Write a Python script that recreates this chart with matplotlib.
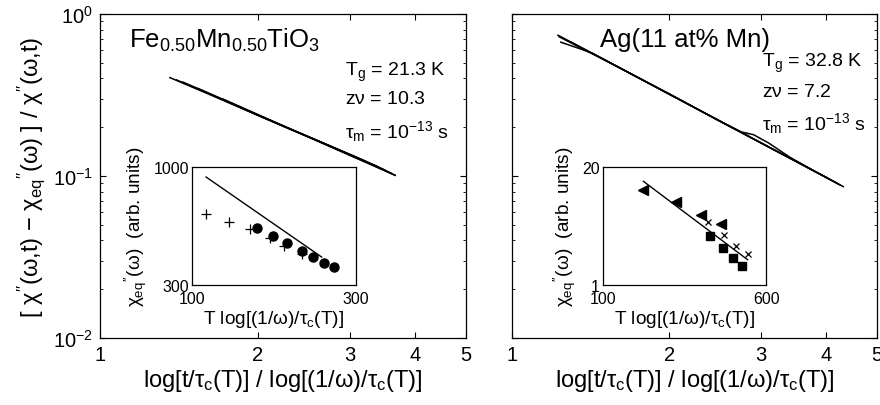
import numpy as np
import matplotlib
matplotlib.use("Agg")
import matplotlib.pyplot as plt
from matplotlib.ticker import FixedLocator, FixedFormatter, NullLocator

plt.rcParams['font.family'] = ['Liberation Sans', 'DejaVu Sans']
plt.rcParams['mathtext.fontset'] = 'custom'
plt.rcParams['mathtext.rm'] = 'Liberation Sans'
plt.rcParams['mathtext.it'] = 'Liberation Sans'
plt.rcParams['mathtext.bf'] = 'Liberation Sans:bold'

# main panel curves, Fe0.5Mn0.5TiO3 (several overlapping runs)
fm_curves = [
    ([1.36, 1.6, 2.0, 2.5, 3.0, 3.66], [0.405, 0.324, 0.237, 0.174, 0.134, 0.101]),
    ([1.40, 1.7, 2.1, 2.6, 3.1, 3.6], [0.392, 0.300, 0.222, 0.166, 0.130, 0.104]),
    ([1.44, 1.8, 2.2, 2.7, 3.2, 3.66], [0.380, 0.278, 0.208, 0.157, 0.124, 0.101]),
    ([1.54, 1.9, 2.3, 2.8, 3.4], [0.347, 0.256, 0.196, 0.149, 0.114]),
    ([1.72, 2.0, 2.4, 2.9, 3.5], [0.298, 0.240, 0.185, 0.142, 0.109]),
]
# main panel curves, Ag(11 at% Mn)
ag_curves = [
    ([1.225, 1.5, 1.9, 2.4, 2.89, 3.4, 3.9, 4.31], [0.74, 0.524, 0.349, 0.234, 0.170, 0.129, 0.102, 0.086]),
    ([1.24, 1.35, 1.43, 1.7, 2.1, 2.6, 3.0, 3.5, 4.2], [0.67, 0.61, 0.57, 0.423, 0.295, 0.204, 0.160, 0.123, 0.090]),
    ([1.23, 1.6, 2.0, 2.5, 2.75, 2.9, 3.1, 3.4, 3.8, 4.25], [0.725, 0.469, 0.322, 0.218, 0.187, 0.180, 0.160, 0.131, 0.107, 0.088]),
    ([1.3, 1.7, 2.2, 2.7, 3.3, 4.0], [0.668, 0.423, 0.272, 0.192, 0.136, 0.098]),
]

# inset data, Fe0.5Mn0.5TiO3
fm_line_x = [110, 239]
fm_line_y = [903, 399]
fm_plus_x = [110, 128, 148, 169, 186, 209]
fm_plus_y = [618, 571, 531, 485, 447, 411]
fm_dot_x = [155, 172, 190, 209, 225, 242, 259]
fm_dot_y = [538, 494, 460, 424, 399, 375, 361]

# inset data, Ag(11 at% Mn)
ag_line_x = [156, 488]
ag_line_y = [13.9, 1.90]
ag_tri_x = [155, 224, 292, 363]
ag_tri_y = [11.1, 8.17, 5.86, 4.65]
ag_x_x = [315, 376, 432, 488]
ag_x_y = [5.0, 3.59, 2.71, 2.21]
ag_sq_x = [322, 371, 414, 461]
ag_sq_y = [3.51, 2.58, 2.0, 1.62]

xlab = r"log[t/$\tau_c$(T)] / log[(1/$\omega$)/$\tau_c$(T)]"
ylab = r"[ $\chi''$($\omega$,t) $-$ $\chi_{eq}{}''$($\omega$) ] / $\chi''$($\omega$,t)"
inset_xlab = r"T log[(1/$\omega$)/$\tau_c$(T)]"
inset_ylab = r"$\chi_{eq}{}''$($\omega$)  (arb. units)"

fig = plt.figure(figsize=(8.8, 4.06), dpi=100)
ax1 = fig.add_axes([0.1136, 0.165, 0.416, 0.798])
ax2 = fig.add_axes([0.5818, 0.165, 0.4148, 0.798])

for ax, curves in ((ax1, fm_curves), (ax2, ag_curves)):
    for cx, cy in curves:
        ax.plot(cx, cy, color='black', lw=1.1)
    ax.set_xscale('log')
    ax.set_yscale('log')
    ax.set_xlim(1, 5)
    ax.set_ylim(1e-2, 1)
    ax.xaxis.set_major_locator(FixedLocator([1, 2, 3, 4, 5]))
    ax.xaxis.set_major_formatter(FixedFormatter(['1', '2', '3', '4', '5']))
    ax.xaxis.set_minor_locator(NullLocator())
    ax.tick_params(which='both', direction='in', top=True, right=True, labelsize=14.5)
    ax.tick_params(which='major', length=4, pad=5)
    ax.tick_params(which='minor', length=2.5)
    ax.set_xlabel(xlab, fontsize=17, labelpad=2)
    for s in ax.spines.values():
        s.set_linewidth(0.9)

ax1.set_ylabel(ylab, fontsize=17, labelpad=4)
ax2.tick_params(labelleft=False)

ax1.text(0.08, 0.898, r"Fe$_{0.50}$Mn$_{0.50}$TiO$_3$", transform=ax1.transAxes, fontsize=18.5)
ax1.text(0.669, 0.824, r"T$_g$ = 21.3 K", transform=ax1.transAxes, fontsize=14, va='center')
ax1.text(0.669, 0.738, r"z$\nu$ = 10.3", transform=ax1.transAxes, fontsize=14, va='center')
ax1.text(0.669, 0.639, r"$\tau_m$ = 10$^{-13}$ s", transform=ax1.transAxes, fontsize=14, va='center')

ax2.text(0.241, 0.90, "Ag(11 at% Mn)", transform=ax2.transAxes, fontsize=18.5)
ax2.text(0.685, 0.851, r"T$_g$ = 32.8 K", transform=ax2.transAxes, fontsize=14, va='center')
ax2.text(0.685, 0.762, r"z$\nu$ = 7.2", transform=ax2.transAxes, fontsize=14, va='center')
ax2.text(0.685, 0.666, r"$\tau_m$ = 10$^{-13}$ s", transform=ax2.transAxes, fontsize=14, va='center')

in1 = fig.add_axes([0.218, 0.2956, 0.186, 0.2906])
in1.plot(fm_line_x, fm_line_y, color='black', lw=1)
in1.plot(fm_plus_x, fm_plus_y, '+', color='black', ms=7, mew=0.9)
in1.plot(fm_dot_x, fm_dot_y, 'o', color='black', ms=6.5)
in1.set_xlim(100, 300)
in1.set_ylim(300, 1000)
in1_xt = ([100, 300], ['100', '300'])
in1_yt = ([300, 1000], ['300', '1000'])

in2 = fig.add_axes([0.685, 0.2956, 0.186, 0.2906])
in2.plot(ag_line_x, ag_line_y, color='black', lw=1)
in2.plot(ag_tri_x, ag_tri_y, '<', color='black', ms=7)
in2.plot(ag_x_x, ag_x_y, 'x', color='black', ms=5, mew=0.9)
in2.plot(ag_sq_x, ag_sq_y, 's', color='black', ms=6)
in2.set_xlim(100, 600)
in2.set_ylim(1, 20)
in2_xt = ([100, 600], ['100', '600'])
in2_yt = ([1, 20], ['1', '20'])

for ax, xt, yt in ((in1, in1_xt, in1_yt), (in2, in2_xt, in2_yt)):
    ax.set_xscale('log')
    ax.set_yscale('log')
    ax.xaxis.set_major_locator(FixedLocator(xt[0]))
    ax.xaxis.set_major_formatter(FixedFormatter(xt[1]))
    ax.yaxis.set_major_locator(FixedLocator(yt[0]))
    ax.yaxis.set_major_formatter(FixedFormatter(yt[1]))
    ax.xaxis.set_minor_locator(NullLocator())
    ax.yaxis.set_minor_locator(NullLocator())
    ax.tick_params(axis='x', direction='in', length=0, labelsize=11.5, pad=4)
    ax.tick_params(axis='y', direction='in', length=0, labelsize=11.5, pad=2)
    ax.set_xlabel(inset_xlab, fontsize=13.7, labelpad=2)
    ax.set_ylabel(inset_ylab, fontsize=13.7, labelpad=3)
    for s in ax.spines.values():
        s.set_linewidth(0.9)

fig.savefig("out.png", dpi=100)
